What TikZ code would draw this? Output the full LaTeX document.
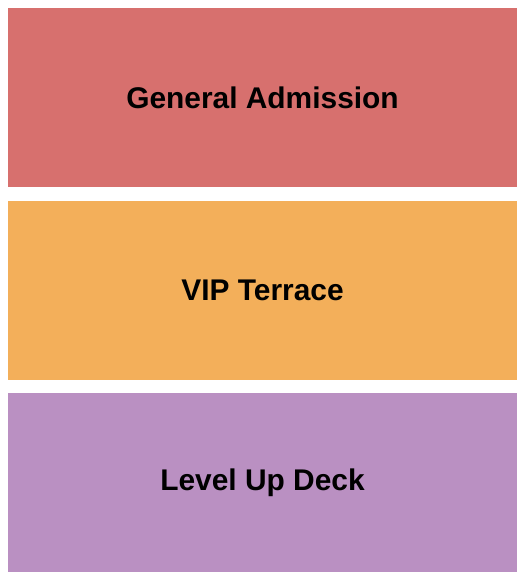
\documentclass[tikz,border=0pt]{standalone}
\usepackage{fontspec}
\setmainfont{Liberation Sans}
\usetikzlibrary{positioning}

\definecolor{gared}{RGB}{215,112,110}
\definecolor{viporange}{RGB}{243,175,90}
\definecolor{deckpurple}{RGB}{186,144,194}

\begin{document}
\begin{tikzpicture}[x=1pt,y=-1pt,
    section/.style={draw=none,minimum width=509pt,minimum height=179pt,inner sep=0pt,
      font=\fontsize{29.9}{32}\selectfont\bfseries}]
    \useasboundingbox (0,0) rectangle (525,580);

    \node[section,fill=gared] (ga) at (262.5,97.5) {General Admission};
    \node[section,fill=viporange] (vip) at (262.5,290.5) {VIP Terrace};
    \node[section,fill=deckpurple] (deck) at (262.5,482.5) {Level Up Deck};
  \end{tikzpicture}
\end{document}
